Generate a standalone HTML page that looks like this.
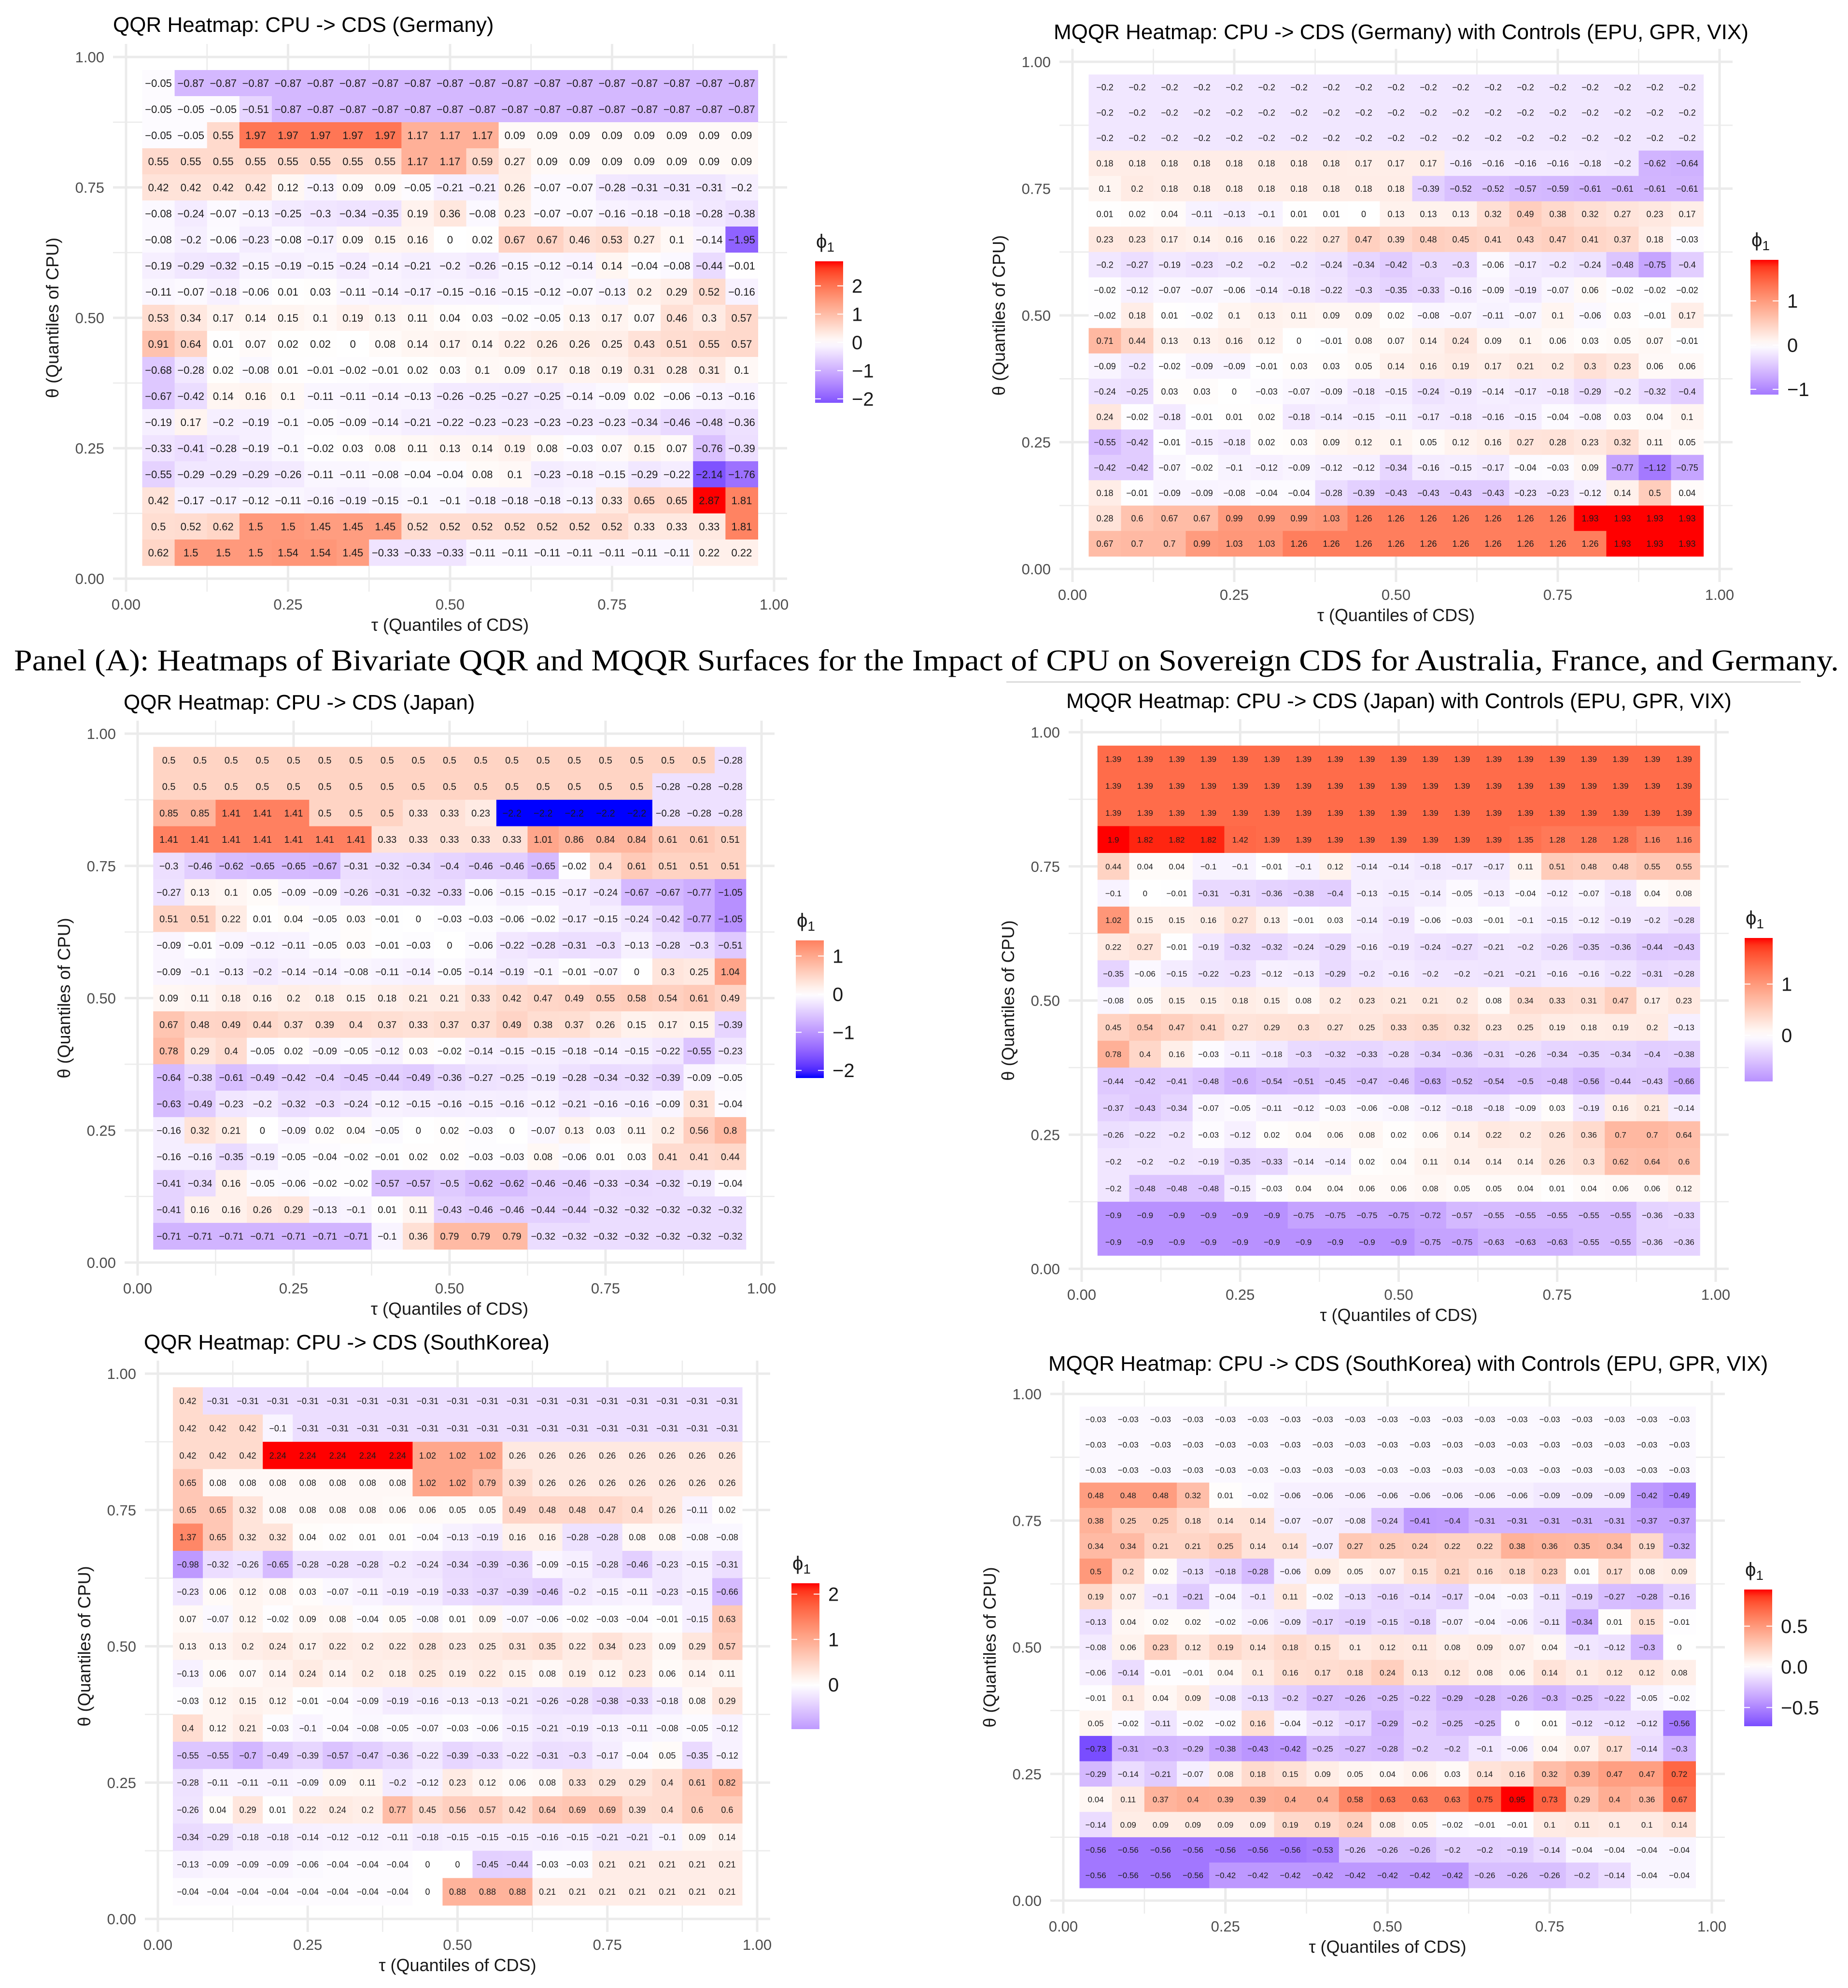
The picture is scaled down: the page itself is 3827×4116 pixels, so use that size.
<!DOCTYPE html>
<html><head><meta charset="utf-8"><title>QQR / MQQR Heatmaps</title>
<style>
html,body{margin:0;padding:0;background:#fff;}
svg{display:block;}
text{font-family:"Liberation Sans",sans-serif;}
</style></head>
<body>
<svg id="fig" xmlns="http://www.w3.org/2000/svg" width="3827" height="4116" viewBox="0 0 3827 4116">
<rect x="0" y="0" width="3827" height="4116" fill="#fff"/>
<text x="29" y="1388" font-family="Liberation Serif, serif" style="font-family:'Liberation Serif',serif" font-size="62" fill="#000" textLength="3779" lengthAdjust="spacingAndGlyphs">Panel (A): Heatmaps of Bivariate QQR and MQQR Surfaces for the Impact of CPU on Sovereign CDS for Australia, France, and Germany.</text>
<line x1="2084" y1="1412" x2="3729" y2="1412" stroke="#d9d9d9" stroke-width="3"/>
</svg>
<script>
// ---------- shared categories and ticks ----------
const tauCategories = [0.05,0.1,0.15,0.2,0.25,0.3,0.35,0.4,0.45,0.5,0.55,0.6,0.65,0.7,0.75,0.8,0.85,0.9,0.95];
const thetaCategories = [0.95,0.9,0.85,0.8,0.75,0.7,0.65,0.6,0.55,0.5,0.45,0.4,0.35,0.3,0.25,0.2,0.15,0.1,0.05];
const axisTickValues = [0,0.25,0.5,0.75,1];
const axisTickLabels = ["0.00","0.25","0.50","0.75","1.00"];

// ---------- Germany QQR ----------
const germanyQqrValues = [
[-0.05,-0.87,-0.87,-0.87,-0.87,-0.87,-0.87,-0.87,-0.87,-0.87,-0.87,-0.87,-0.87,-0.87,-0.87,-0.87,-0.87,-0.87,-0.87],
[-0.05,-0.05,-0.05,-0.51,-0.87,-0.87,-0.87,-0.87,-0.87,-0.87,-0.87,-0.87,-0.87,-0.87,-0.87,-0.87,-0.87,-0.87,-0.87],
[-0.05,-0.05,0.55,1.97,1.97,1.97,1.97,1.97,1.17,1.17,1.17,0.09,0.09,0.09,0.09,0.09,0.09,0.09,0.09],
[0.55,0.55,0.55,0.55,0.55,0.55,0.55,0.55,1.17,1.17,0.59,0.27,0.09,0.09,0.09,0.09,0.09,0.09,0.09],
[0.42,0.42,0.42,0.42,0.12,-0.13,0.09,0.09,-0.05,-0.21,-0.21,0.26,-0.07,-0.07,-0.28,-0.31,-0.31,-0.31,-0.2],
[-0.08,-0.24,-0.07,-0.13,-0.25,-0.3,-0.34,-0.35,0.19,0.36,-0.08,0.23,-0.07,-0.07,-0.16,-0.18,-0.18,-0.28,-0.38],
[-0.08,-0.2,-0.06,-0.23,-0.08,-0.17,0.09,0.15,0.16,0,0.02,0.67,0.67,0.46,0.53,0.27,0.1,-0.14,-1.95],
[-0.19,-0.29,-0.32,-0.15,-0.19,-0.15,-0.24,-0.14,-0.21,-0.2,-0.26,-0.15,-0.12,-0.14,0.14,-0.04,-0.08,-0.44,-0.01],
[-0.11,-0.07,-0.18,-0.06,0.01,0.03,-0.11,-0.14,-0.17,-0.15,-0.16,-0.15,-0.12,-0.07,-0.13,0.2,0.29,0.52,-0.16],
[0.53,0.34,0.17,0.14,0.15,0.1,0.19,0.13,0.11,0.04,0.03,-0.02,-0.05,0.13,0.17,0.07,0.46,0.3,0.57],
[0.91,0.64,0.01,0.07,0.02,0.02,0,0.08,0.14,0.17,0.14,0.22,0.26,0.26,0.25,0.43,0.51,0.55,0.57],
[-0.68,-0.28,0.02,-0.08,0.01,-0.01,-0.02,-0.01,0.02,0.03,0.1,0.09,0.17,0.18,0.19,0.31,0.28,0.31,0.1],
[-0.67,-0.42,0.14,0.16,0.1,-0.11,-0.11,-0.14,-0.13,-0.26,-0.25,-0.27,-0.25,-0.14,-0.09,0.02,-0.06,-0.13,-0.16],
[-0.19,0.17,-0.2,-0.19,-0.1,-0.05,-0.09,-0.14,-0.21,-0.22,-0.23,-0.23,-0.23,-0.23,-0.23,-0.34,-0.46,-0.48,-0.36],
[-0.33,-0.41,-0.28,-0.19,-0.1,-0.02,0.03,0.08,0.11,0.13,0.14,0.19,0.08,-0.03,0.07,0.15,0.07,-0.76,-0.39],
[-0.55,-0.29,-0.29,-0.29,-0.26,-0.11,-0.11,-0.08,-0.04,-0.04,0.08,0.1,-0.23,-0.18,-0.15,-0.29,-0.22,-2.14,-1.76],
[0.42,-0.17,-0.17,-0.12,-0.11,-0.16,-0.19,-0.15,-0.1,-0.1,-0.18,-0.18,-0.18,-0.13,0.33,0.65,0.65,2.87,1.81],
[0.5,0.52,0.62,1.5,1.5,1.45,1.45,1.45,0.52,0.52,0.52,0.52,0.52,0.52,0.52,0.33,0.33,0.33,1.81],
[0.62,1.5,1.5,1.5,1.54,1.54,1.45,-0.33,-0.33,-0.33,-0.11,-0.11,-0.11,-0.11,-0.11,-0.11,-0.11,0.22,0.22]
];
const germanyQqrLegendTicks = [2,1,0,-1,-2];

// ---------- Germany MQQR ----------
const germanyMqqrValues = [
[-0.2,-0.2,-0.2,-0.2,-0.2,-0.2,-0.2,-0.2,-0.2,-0.2,-0.2,-0.2,-0.2,-0.2,-0.2,-0.2,-0.2,-0.2,-0.2],
[-0.2,-0.2,-0.2,-0.2,-0.2,-0.2,-0.2,-0.2,-0.2,-0.2,-0.2,-0.2,-0.2,-0.2,-0.2,-0.2,-0.2,-0.2,-0.2],
[-0.2,-0.2,-0.2,-0.2,-0.2,-0.2,-0.2,-0.2,-0.2,-0.2,-0.2,-0.2,-0.2,-0.2,-0.2,-0.2,-0.2,-0.2,-0.2],
[0.18,0.18,0.18,0.18,0.18,0.18,0.18,0.18,0.17,0.17,0.17,-0.16,-0.16,-0.16,-0.16,-0.18,-0.2,-0.62,-0.64],
[0.1,0.2,0.18,0.18,0.18,0.18,0.18,0.18,0.18,0.18,-0.39,-0.52,-0.52,-0.57,-0.59,-0.61,-0.61,-0.61,-0.61],
[0.01,0.02,0.04,-0.11,-0.13,-0.1,0.01,0.01,0,0.13,0.13,0.13,0.32,0.49,0.38,0.32,0.27,0.23,0.17],
[0.23,0.23,0.17,0.14,0.16,0.16,0.22,0.27,0.47,0.39,0.48,0.45,0.41,0.43,0.47,0.41,0.37,0.18,-0.03],
[-0.2,-0.27,-0.19,-0.23,-0.2,-0.2,-0.2,-0.24,-0.34,-0.42,-0.3,-0.3,-0.06,-0.17,-0.2,-0.24,-0.48,-0.75,-0.4],
[-0.02,-0.12,-0.07,-0.07,-0.06,-0.14,-0.18,-0.22,-0.3,-0.35,-0.33,-0.16,-0.09,-0.19,-0.07,0.06,-0.02,-0.02,-0.02],
[-0.02,0.18,0.01,-0.02,0.1,0.13,0.11,0.09,0.09,0.02,-0.08,-0.07,-0.11,-0.07,0.1,-0.06,0.03,-0.01,0.17],
[0.71,0.44,0.13,0.13,0.16,0.12,0,-0.01,0.08,0.07,0.14,0.24,0.09,0.1,0.06,0.03,0.05,0.07,-0.01],
[-0.09,-0.2,-0.02,-0.09,-0.09,-0.01,0.03,0.03,0.05,0.14,0.16,0.19,0.17,0.21,0.2,0.3,0.23,0.06,0.06],
[-0.24,-0.25,0.03,0.03,0,-0.03,-0.07,-0.09,-0.18,-0.15,-0.24,-0.19,-0.14,-0.17,-0.18,-0.29,-0.2,-0.32,-0.4],
[0.24,-0.02,-0.18,-0.01,0.01,0.02,-0.18,-0.14,-0.15,-0.11,-0.17,-0.18,-0.16,-0.15,-0.04,-0.08,0.03,0.04,0.1],
[-0.55,-0.42,-0.01,-0.15,-0.18,0.02,0.03,0.09,0.12,0.1,0.05,0.12,0.16,0.27,0.28,0.23,0.32,0.11,0.05],
[-0.42,-0.42,-0.07,-0.02,-0.1,-0.12,-0.09,-0.12,-0.12,-0.34,-0.16,-0.15,-0.17,-0.04,-0.03,0.09,-0.77,-1.12,-0.75],
[0.18,-0.01,-0.09,-0.09,-0.08,-0.04,-0.04,-0.28,-0.39,-0.43,-0.43,-0.43,-0.43,-0.23,-0.23,-0.12,0.14,0.5,0.04],
[0.28,0.6,0.67,0.67,0.99,0.99,0.99,1.03,1.26,1.26,1.26,1.26,1.26,1.26,1.26,1.93,1.93,1.93,1.93],
[0.67,0.7,0.7,0.99,1.03,1.03,1.26,1.26,1.26,1.26,1.26,1.26,1.26,1.26,1.26,1.26,1.93,1.93,1.93]
];
const germanyMqqrLegendTicks = [1,0,-1];

// ---------- Japan QQR ----------
const japanQqrValues = [
[0.5,0.5,0.5,0.5,0.5,0.5,0.5,0.5,0.5,0.5,0.5,0.5,0.5,0.5,0.5,0.5,0.5,0.5,-0.28],
[0.5,0.5,0.5,0.5,0.5,0.5,0.5,0.5,0.5,0.5,0.5,0.5,0.5,0.5,0.5,0.5,-0.28,-0.28,-0.28],
[0.85,0.85,1.41,1.41,1.41,0.5,0.5,0.5,0.33,0.33,0.23,-2.2,-2.2,-2.2,-2.2,-2.2,-0.28,-0.28,-0.28],
[1.41,1.41,1.41,1.41,1.41,1.41,1.41,0.33,0.33,0.33,0.33,0.33,1.01,0.86,0.84,0.84,0.61,0.61,0.51],
[-0.3,-0.46,-0.62,-0.65,-0.65,-0.67,-0.31,-0.32,-0.34,-0.4,-0.46,-0.46,-0.65,-0.02,0.4,0.61,0.51,0.51,0.51],
[-0.27,0.13,0.1,0.05,-0.09,-0.09,-0.26,-0.31,-0.32,-0.33,-0.06,-0.15,-0.15,-0.17,-0.24,-0.67,-0.67,-0.77,-1.05],
[0.51,0.51,0.22,0.01,0.04,-0.05,0.03,-0.01,0,-0.03,-0.03,-0.06,-0.02,-0.17,-0.15,-0.24,-0.42,-0.77,-1.05],
[-0.09,-0.01,-0.09,-0.12,-0.11,-0.05,0.03,-0.01,-0.03,0,-0.06,-0.22,-0.28,-0.31,-0.3,-0.13,-0.28,-0.3,-0.51],
[-0.09,-0.1,-0.13,-0.2,-0.14,-0.14,-0.08,-0.11,-0.14,-0.05,-0.14,-0.19,-0.1,-0.01,-0.07,0,0.3,0.25,1.04],
[0.09,0.11,0.18,0.16,0.2,0.18,0.15,0.18,0.21,0.21,0.33,0.42,0.47,0.49,0.55,0.58,0.54,0.61,0.49],
[0.67,0.48,0.49,0.44,0.37,0.39,0.4,0.37,0.33,0.37,0.37,0.49,0.38,0.37,0.26,0.15,0.17,0.15,-0.39],
[0.78,0.29,0.4,-0.05,0.02,-0.09,-0.05,-0.12,0.03,-0.02,-0.14,-0.15,-0.15,-0.18,-0.14,-0.15,-0.22,-0.55,-0.23],
[-0.64,-0.38,-0.61,-0.49,-0.42,-0.4,-0.45,-0.44,-0.49,-0.36,-0.27,-0.25,-0.19,-0.28,-0.34,-0.32,-0.39,-0.09,-0.05],
[-0.63,-0.49,-0.23,-0.2,-0.32,-0.3,-0.24,-0.12,-0.15,-0.16,-0.15,-0.16,-0.12,-0.21,-0.16,-0.16,-0.09,0.31,-0.04],
[-0.16,0.32,0.21,0,-0.09,0.02,0.04,-0.05,0,0.02,-0.03,0,-0.07,0.13,0.03,0.11,0.2,0.56,0.8],
[-0.16,-0.16,-0.35,-0.19,-0.05,-0.04,-0.02,-0.01,0.02,0.02,-0.03,-0.03,0.08,-0.06,0.01,0.03,0.41,0.41,0.44],
[-0.41,-0.34,0.16,-0.05,-0.06,-0.02,-0.02,-0.57,-0.57,-0.5,-0.62,-0.62,-0.46,-0.46,-0.33,-0.34,-0.32,-0.19,-0.04],
[-0.41,0.16,0.16,0.26,0.29,-0.13,-0.1,0.01,0.11,-0.43,-0.46,-0.46,-0.44,-0.44,-0.32,-0.32,-0.32,-0.32,-0.32],
[-0.71,-0.71,-0.71,-0.71,-0.71,-0.71,-0.71,-0.1,0.36,0.79,0.79,0.79,-0.32,-0.32,-0.32,-0.32,-0.32,-0.32,-0.32]
];
const japanQqrLegendTicks = [1,0,-1,-2];

// ---------- Japan MQQR ----------
const japanMqqrValues = [
[1.39,1.39,1.39,1.39,1.39,1.39,1.39,1.39,1.39,1.39,1.39,1.39,1.39,1.39,1.39,1.39,1.39,1.39,1.39],
[1.39,1.39,1.39,1.39,1.39,1.39,1.39,1.39,1.39,1.39,1.39,1.39,1.39,1.39,1.39,1.39,1.39,1.39,1.39],
[1.39,1.39,1.39,1.39,1.39,1.39,1.39,1.39,1.39,1.39,1.39,1.39,1.39,1.39,1.39,1.39,1.39,1.39,1.39],
[1.9,1.82,1.82,1.82,1.42,1.39,1.39,1.39,1.39,1.39,1.39,1.39,1.39,1.35,1.28,1.28,1.28,1.16,1.16],
[0.44,0.04,0.04,-0.1,-0.1,-0.01,-0.1,0.12,-0.14,-0.14,-0.18,-0.17,-0.17,0.11,0.51,0.48,0.48,0.55,0.55],
[-0.1,0,-0.01,-0.31,-0.31,-0.36,-0.38,-0.4,-0.13,-0.15,-0.14,-0.05,-0.13,-0.04,-0.12,-0.07,-0.18,0.04,0.08],
[1.02,0.15,0.15,0.16,0.27,0.13,-0.01,0.03,-0.14,-0.19,-0.06,-0.03,-0.01,-0.1,-0.15,-0.12,-0.19,-0.2,-0.28],
[0.22,0.27,-0.01,-0.19,-0.32,-0.32,-0.24,-0.29,-0.16,-0.19,-0.24,-0.27,-0.21,-0.2,-0.26,-0.35,-0.36,-0.44,-0.43],
[-0.35,-0.06,-0.15,-0.22,-0.23,-0.12,-0.13,-0.29,-0.2,-0.16,-0.2,-0.2,-0.21,-0.21,-0.16,-0.16,-0.22,-0.31,-0.28],
[-0.08,0.05,0.15,0.15,0.18,0.15,0.08,0.2,0.23,0.21,0.21,0.2,0.08,0.34,0.33,0.31,0.47,0.17,0.23],
[0.45,0.54,0.47,0.41,0.27,0.29,0.3,0.27,0.25,0.33,0.35,0.32,0.23,0.25,0.19,0.18,0.19,0.2,-0.13],
[0.78,0.4,0.16,-0.03,-0.11,-0.18,-0.3,-0.32,-0.33,-0.28,-0.34,-0.36,-0.31,-0.26,-0.34,-0.35,-0.34,-0.4,-0.38],
[-0.44,-0.42,-0.41,-0.48,-0.6,-0.54,-0.51,-0.45,-0.47,-0.46,-0.63,-0.52,-0.54,-0.5,-0.48,-0.56,-0.44,-0.43,-0.66],
[-0.37,-0.43,-0.34,-0.07,-0.05,-0.11,-0.12,-0.03,-0.06,-0.08,-0.12,-0.18,-0.18,-0.09,0.03,-0.19,0.16,0.21,-0.14],
[-0.26,-0.22,-0.2,-0.03,-0.12,0.02,0.04,0.06,0.08,0.02,0.06,0.14,0.22,0.2,0.26,0.36,0.7,0.7,0.64],
[-0.2,-0.2,-0.2,-0.19,-0.35,-0.33,-0.14,-0.14,0.02,0.04,0.11,0.14,0.14,0.14,0.26,0.3,0.62,0.64,0.6],
[-0.2,-0.48,-0.48,-0.48,-0.15,-0.03,0.04,0.04,0.06,0.06,0.08,0.05,0.05,0.04,0.01,0.04,0.06,0.06,0.12],
[-0.9,-0.9,-0.9,-0.9,-0.9,-0.9,-0.75,-0.75,-0.75,-0.75,-0.72,-0.57,-0.55,-0.55,-0.55,-0.55,-0.55,-0.36,-0.33],
[-0.9,-0.9,-0.9,-0.9,-0.9,-0.9,-0.9,-0.9,-0.9,-0.9,-0.75,-0.75,-0.63,-0.63,-0.63,-0.55,-0.55,-0.36,-0.36]
];
const japanMqqrLegendTicks = [1,0];

// ---------- South Korea QQR ----------
const koreaQqrValues = [
[0.42,-0.31,-0.31,-0.31,-0.31,-0.31,-0.31,-0.31,-0.31,-0.31,-0.31,-0.31,-0.31,-0.31,-0.31,-0.31,-0.31,-0.31,-0.31],
[0.42,0.42,0.42,-0.1,-0.31,-0.31,-0.31,-0.31,-0.31,-0.31,-0.31,-0.31,-0.31,-0.31,-0.31,-0.31,-0.31,-0.31,-0.31],
[0.42,0.42,0.42,2.24,2.24,2.24,2.24,2.24,1.02,1.02,1.02,0.26,0.26,0.26,0.26,0.26,0.26,0.26,0.26],
[0.65,0.08,0.08,0.08,0.08,0.08,0.08,0.08,1.02,1.02,0.79,0.39,0.26,0.26,0.26,0.26,0.26,0.26,0.26],
[0.65,0.65,0.32,0.08,0.08,0.08,0.08,0.06,0.06,0.05,0.05,0.49,0.48,0.48,0.47,0.4,0.26,-0.11,0.02],
[1.37,0.65,0.32,0.32,0.04,0.02,0.01,0.01,-0.04,-0.13,-0.19,0.16,0.16,-0.28,-0.28,0.08,0.08,-0.08,-0.08],
[-0.98,-0.32,-0.26,-0.65,-0.28,-0.28,-0.28,-0.2,-0.24,-0.34,-0.39,-0.36,-0.09,-0.15,-0.28,-0.46,-0.23,-0.15,-0.31],
[-0.23,0.06,0.12,0.08,0.03,-0.07,-0.11,-0.19,-0.19,-0.33,-0.37,-0.39,-0.46,-0.2,-0.15,-0.11,-0.23,-0.15,-0.66],
[0.07,-0.07,0.12,-0.02,0.09,0.08,-0.04,0.05,-0.08,0.01,0.09,-0.07,-0.06,-0.02,-0.03,-0.04,-0.01,-0.15,0.63],
[0.13,0.13,0.2,0.24,0.17,0.22,0.2,0.22,0.28,0.23,0.25,0.31,0.35,0.22,0.34,0.23,0.09,0.29,0.57],
[-0.13,0.06,0.07,0.14,0.24,0.14,0.2,0.18,0.25,0.19,0.22,0.15,0.08,0.19,0.12,0.23,0.06,0.14,0.11],
[-0.03,0.12,0.15,0.12,-0.01,-0.04,-0.09,-0.19,-0.16,-0.13,-0.13,-0.21,-0.26,-0.28,-0.38,-0.33,-0.18,0.08,0.29],
[0.4,0.12,0.21,-0.03,-0.1,-0.04,-0.08,-0.05,-0.07,-0.03,-0.06,-0.15,-0.21,-0.19,-0.13,-0.11,-0.08,-0.05,-0.12],
[-0.55,-0.55,-0.7,-0.49,-0.39,-0.57,-0.47,-0.36,-0.22,-0.39,-0.33,-0.22,-0.31,-0.3,-0.17,-0.04,0.05,-0.35,-0.12],
[-0.28,-0.11,-0.11,-0.11,-0.09,0.09,0.11,-0.2,-0.12,0.23,0.12,0.06,0.08,0.33,0.29,0.29,0.4,0.61,0.82],
[-0.26,0.04,0.29,0.01,0.22,0.24,0.2,0.77,0.45,0.56,0.57,0.42,0.64,0.69,0.69,0.39,0.4,0.6,0.6],
[-0.34,-0.29,-0.18,-0.18,-0.14,-0.12,-0.12,-0.11,-0.18,-0.15,-0.15,-0.15,-0.16,-0.15,-0.21,-0.21,-0.1,0.09,0.14],
[-0.13,-0.09,-0.09,-0.09,-0.06,-0.04,-0.04,-0.04,0,0,-0.45,-0.44,-0.03,-0.03,0.21,0.21,0.21,0.21,0.21],
[-0.04,-0.04,-0.04,-0.04,-0.04,-0.04,-0.04,-0.04,0,0.88,0.88,0.88,0.21,0.21,0.21,0.21,0.21,0.21,0.21]
];
const koreaQqrLegendTicks = [2,1,0];

// ---------- South Korea MQQR ----------
const koreaMqqrValues = [
[-0.03,-0.03,-0.03,-0.03,-0.03,-0.03,-0.03,-0.03,-0.03,-0.03,-0.03,-0.03,-0.03,-0.03,-0.03,-0.03,-0.03,-0.03,-0.03],
[-0.03,-0.03,-0.03,-0.03,-0.03,-0.03,-0.03,-0.03,-0.03,-0.03,-0.03,-0.03,-0.03,-0.03,-0.03,-0.03,-0.03,-0.03,-0.03],
[-0.03,-0.03,-0.03,-0.03,-0.03,-0.03,-0.03,-0.03,-0.03,-0.03,-0.03,-0.03,-0.03,-0.03,-0.03,-0.03,-0.03,-0.03,-0.03],
[0.48,0.48,0.48,0.32,0.01,-0.02,-0.06,-0.06,-0.06,-0.06,-0.06,-0.06,-0.06,-0.06,-0.09,-0.09,-0.09,-0.42,-0.49],
[0.38,0.25,0.25,0.18,0.14,0.14,-0.07,-0.07,-0.08,-0.24,-0.41,-0.4,-0.31,-0.31,-0.31,-0.31,-0.31,-0.37,-0.37],
[0.34,0.34,0.21,0.21,0.25,0.14,0.14,-0.07,0.27,0.25,0.24,0.22,0.22,0.38,0.36,0.35,0.34,0.19,-0.32],
[0.5,0.2,0.02,-0.13,-0.18,-0.28,-0.06,0.09,0.05,0.07,0.15,0.21,0.16,0.18,0.23,0.01,0.17,0.08,0.09],
[0.19,0.07,-0.1,-0.21,-0.04,-0.1,0.11,-0.02,-0.13,-0.16,-0.14,-0.17,-0.04,-0.03,-0.11,-0.19,-0.27,-0.28,-0.16],
[-0.13,0.04,0.02,0.02,-0.02,-0.06,-0.09,-0.17,-0.19,-0.15,-0.18,-0.07,-0.04,-0.06,-0.11,-0.34,0.01,0.15,-0.01],
[-0.08,0.06,0.23,0.12,0.19,0.14,0.18,0.15,0.1,0.12,0.11,0.08,0.09,0.07,0.04,-0.1,-0.12,-0.3,0],
[-0.06,-0.14,-0.01,-0.01,0.04,0.1,0.16,0.17,0.18,0.24,0.13,0.12,0.08,0.06,0.14,0.1,0.12,0.12,0.08],
[-0.01,0.1,0.04,0.09,-0.08,-0.13,-0.2,-0.27,-0.26,-0.25,-0.22,-0.29,-0.28,-0.26,-0.3,-0.25,-0.22,-0.05,-0.02],
[0.05,-0.02,-0.11,-0.02,-0.02,0.16,-0.04,-0.12,-0.17,-0.29,-0.2,-0.25,-0.25,0,0.01,-0.12,-0.12,-0.12,-0.56],
[-0.73,-0.31,-0.3,-0.29,-0.38,-0.43,-0.42,-0.25,-0.27,-0.28,-0.2,-0.2,-0.1,-0.06,0.04,0.07,0.17,-0.14,-0.3],
[-0.29,-0.14,-0.21,-0.07,0.08,0.18,0.15,0.09,0.05,0.04,0.06,0.03,0.14,0.16,0.32,0.39,0.47,0.47,0.72],
[0.04,0.11,0.37,0.4,0.39,0.39,0.4,0.4,0.58,0.63,0.63,0.63,0.75,0.95,0.73,0.29,0.4,0.36,0.67],
[-0.14,0.09,0.09,0.09,0.09,0.09,0.19,0.19,0.24,0.08,0.05,-0.02,-0.01,-0.01,0.1,0.11,0.1,0.1,0.14],
[-0.56,-0.56,-0.56,-0.56,-0.56,-0.56,-0.56,-0.53,-0.26,-0.26,-0.26,-0.2,-0.2,-0.19,-0.14,-0.04,-0.04,-0.04,-0.04],
[-0.56,-0.56,-0.56,-0.56,-0.42,-0.42,-0.42,-0.42,-0.42,-0.42,-0.42,-0.42,-0.26,-0.26,-0.26,-0.2,-0.14,-0.04,-0.04]
];
const koreaMqqrLegendTicks = [0.5,0,-0.5];

// ---------- colour scale (gradient2, Lab interpolation) ----------
function toLin(c){c/=255;return c<=0.04045?c/12.92:Math.pow((c+0.055)/1.055,2.4);}
function toSrgb(c){c=c<=0.0031308?12.92*c:1.055*Math.pow(c,1/2.4)-0.055;return Math.max(0,Math.min(255,Math.round(c*255)));}
function rgb2lab(r,g,b){
  r=toLin(r);g=toLin(g);b=toLin(b);
  let X=(0.4124*r+0.3576*g+0.1805*b)/0.95047,Y=(0.2126*r+0.7152*g+0.0722*b),Z=(0.0193*r+0.1192*g+0.9505*b)/1.08883;
  const f=t=>t>0.008856?Math.cbrt(t):7.787*t+16/116;
  X=f(X);Y=f(Y);Z=f(Z);
  return [116*Y-16,500*(X-Y),200*(Y-Z)];
}
function lab2rgb(L,a,b){
  let Y=(L+16)/116,X=a/500+Y,Z=Y-b/200;
  const fi=t=>{const t3=t*t*t;return t3>0.008856?t3:(t-16/116)/7.787;};
  X=fi(X)*0.95047;Y=fi(Y);Z=fi(Z)*1.08883;
  const r=3.2406*X-1.5372*Y-0.4986*Z,g=-0.9689*X+1.8758*Y+0.0415*Z,bb=0.0557*X-0.2040*Y+1.0570*Z;
  return `rgb(${toSrgb(r)},${toSrgb(g)},${toSrgb(bb)})`;
}
const LAB_W=rgb2lab(255,255,255),LAB_R=rgb2lab(255,0,0),LAB_B=rgb2lab(0,0,255);
function colourFor(v,maxAbs){
  const t=Math.min(1,Math.abs(v)/maxAbs);
  const e=v>=0?LAB_R:LAB_B;
  return lab2rgb(LAB_W[0]+(e[0]-LAB_W[0])*t,LAB_W[1]+(e[1]-LAB_W[1])*t,LAB_W[2]+(e[2]-LAB_W[2])*t);
}
function fmt(v){return (v<0?"\u2212":"")+String(Math.abs(v));}

// ---------- drawing ----------
const NS="http://www.w3.org/2000/svg";
const svg=document.getElementById("fig");
function mk(tag,attrs,parent){const e=document.createElementNS(NS,tag);for(const k in attrs)e.setAttribute(k,attrs[k]);(parent||svg).appendChild(e);return e;}

function drawPanel(p){
  const g=mk("g",{});
  
  
  const xs=t=>p.x0+t*(p.x1-p.x0);
  const ys=t=>p.yB-t*(p.yB-p.yT);
  const ex=27;
  // grid
  for(let k=0;k<=8;k++){
    const t=k/8,major=k%2===0;
    const gl=mk("line",{x1:xs(t),x2:xs(t),y1:p.yT-ex,y2:p.yB+ex,stroke:"#ebebeb","stroke-width":major?5:2.5},g);
    
    
    const gh=mk("line",{x1:p.x0-ex,x2:p.x1+ex,y1:ys(t),y2:ys(t),stroke:"#ebebeb","stroke-width":major?5:2.5},g);
    
    
  }
  // cells
  const vals=p.values;
  let maxAbs=0,mn=Infinity,mx=-Infinity;
  vals.forEach(r=>r.forEach(v=>{maxAbs=Math.max(maxAbs,Math.abs(v));mn=Math.min(mn,v);mx=Math.max(mx,v);}));
  const cw=(p.x1-p.x0)*0.05,ch=(p.yB-p.yT)*0.05;
  thetaCategories.forEach((th,i)=>{
    tauCategories.forEach((ta,j)=>{
      const row=vals[i]||[];const v=row[Math.min(j,row.length-1)];
      const c=mk("rect",{x:xs(ta)-cw/2,y:ys(th)-ch/2,width:cw+0.6,height:ch+0.6,fill:colourFor(v,maxAbs)},g);
      
      
    });
  });
  thetaCategories.forEach((th,i)=>{
    tauCategories.forEach((ta,j)=>{
      const row=vals[i]||[];const v=row[Math.min(j,row.length-1)];
      const tx=mk("text",{x:xs(ta),y:ys(th)+p.cf*0.36,"font-size":p.cf,"text-anchor":"middle",fill:"#1a1a1a"},g);
      
      
      tx.textContent=fmt(v);
    });
  });
  // ticks
  axisTickValues.forEach((t,k)=>{
    const xl=mk("text",{x:xs(t),y:p.yB+64,"font-size":31,"text-anchor":"middle",fill:"#4d4d4d"},g);
    
    
    xl.textContent=axisTickLabels[k];
    const yl=mk("text",{x:p.x0-45,y:ys(t)+11,"font-size":31,"text-anchor":"end",fill:"#4d4d4d"},g);
    
    
    yl.textContent=axisTickLabels[k];
  });
  // axis titles
  const xt=mk("text",{x:(p.x0+p.x1)/2,y:p.yB+108,"font-size":36,"text-anchor":"middle",fill:"#1a1a1a"},g);
  
  
  xt.textContent="\u03c4 (Quantiles of CDS)";
  const ym=(p.yT+p.yB)/2,yx=p.x0-140;
  const yt=mk("text",{x:yx,y:ym,"font-size":36,"text-anchor":"middle",fill:"#1a1a1a",transform:`rotate(-90 ${yx} ${ym})`},g);
  
  
  yt.textContent="\u03b8 (Quantiles of CPU)";
  // title
  const tt=mk("text",{x:p.tx,y:p.ty+16,"font-size":44,fill:"#000"},g);
  
  
  tt.textContent=p.title;
  // legend
  const lg=mk("g",{},g);
  
  
  const gid="grad"+p.name;
  const defs=mk("defs",{},lg);
  const grad=mk("linearGradient",{id:gid,x1:0,y1:1,x2:0,y2:0},defs);
  for(let s=0;s<=20;s++){
    const v=mn+(mx-mn)*s/20;
    mk("stop",{offset:(s/20),"stop-color":colourFor(v,maxAbs)},grad);
  }
  const lt=mk("text",{x:p.lx+2,y:p.lTop-28,"font-size":40,fill:"#1a1a1a"},lg);
  
  
  lt.textContent="\u03d5";
  const sub=mk("tspan",{"font-size":28,dy:8},lt);
  sub.textContent="1";
  const bar=mk("rect",{x:p.lx,y:p.lTop,width:58,height:p.lBot-p.lTop,fill:`url(#${gid})`},lg);
  
  
  const ly=v=>p.lBot-(v-mn)/(mx-mn)*(p.lBot-p.lTop);
  p.legendTicks.forEach(v=>{
    const yy=ly(v);
    mk("line",{x1:p.lx,x2:p.lx+12,y1:yy,y2:yy,stroke:"#fff","stroke-width":2},lg);
    mk("line",{x1:p.lx+46,x2:p.lx+58,y1:yy,y2:yy,stroke:"#fff","stroke-width":2},lg);
    const l=mk("text",{x:p.lx+76,y:yy+14,"font-size":40,fill:"#1a1a1a"},lg);
    
    
    l.textContent=(v<0?"\u2212":"")+(Number.isInteger(v)&&p.legendDecimals?Math.abs(v).toFixed(1):String(Math.abs(v)));
  });
}

const panels=[
 {name:"germany-qqr-heatmap",values:germanyQqrValues,legendTicks:germanyQqrLegendTicks,title:"QQR Heatmap: CPU -> CDS (Germany)",x0:261,x1:1603,yT:118,yB:1198,tx:234,ty:50,cf:22,lx:1688,lTop:541,lBot:834},
 {name:"germany-mqqr-heatmap",values:germanyMqqrValues,legendTicks:germanyMqqrLegendTicks,title:"MQQR Heatmap: CPU -> CDS (Germany) with Controls (EPU, GPR, VIX)",x0:2221,x1:3561,yT:128,yB:1178,tx:2182,ty:65,cf:18,lx:3625,lTop:538,lBot:817},
 {name:"japan-qqr-heatmap",values:japanQqrValues,legendTicks:japanQqrLegendTicks,title:"QQR Heatmap: CPU -> CDS (Japan)",x0:285,x1:1577,yT:1519,yB:2614,tx:256,ty:1453,cf:20,lx:1648,lTop:1947,lBot:2232},
 {name:"japan-mqqr-heatmap",values:japanMqqrValues,legendTicks:japanMqqrLegendTicks,title:"MQQR Heatmap: CPU -> CDS (Japan) with Controls (EPU, GPR, VIX)",x0:2240,x1:3553,yT:1516,yB:2627,tx:2208,ty:1450,cf:17,lx:3613,lTop:1942,lBot:2239},
 {name:"southkorea-qqr-heatmap",values:koreaQqrValues,legendTicks:koreaQqrLegendTicks,title:"QQR Heatmap: CPU -> CDS (SouthKorea)",x0:327,x1:1568,yT:2844,yB:3973,tx:298,ty:2778,cf:18,lx:1639,lTop:3278,lBot:3580},
 {name:"southkorea-mqqr-heatmap",values:koreaMqqrValues,legendTicks:koreaMqqrLegendTicks,title:"MQQR Heatmap: CPU -> CDS (SouthKorea) with Controls (EPU, GPR, VIX)",x0:2202,x1:3545,yT:2886,yB:3935,tx:2171,ty:2822,cf:17,lx:3612,lTop:3291,lBot:3574,legendDecimals:true}
];
panels.forEach(drawPanel);
</script>
</body></html>
